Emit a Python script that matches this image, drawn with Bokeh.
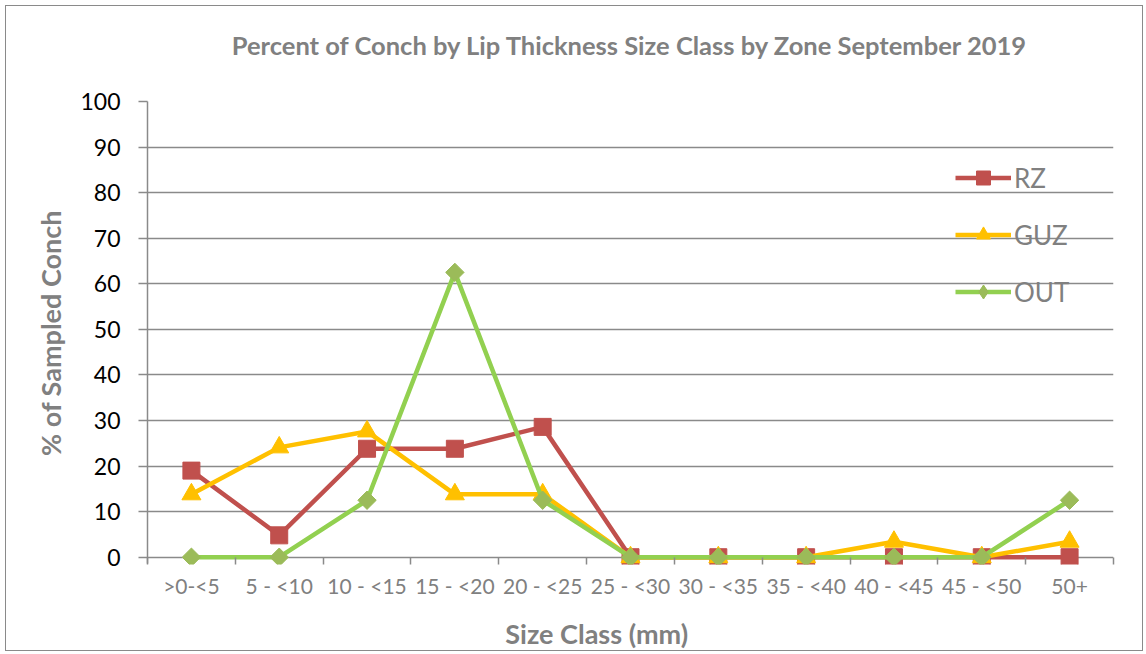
import numpy as np
from bokeh.plotting import figure
from bokeh.models import (Range1d, FixedTicker, Legend, LegendItem, CustomJSTickFormatter, Title)
from bokeh.embed import file_html
from bokeh.resources import INLINE

# ---- data ----
categories = [">0-<5", "5 - <10", "10 - <15", "15 - <20", "20 - <25", "25 - <30",
              "30 - <35", "35 - <40", "40 - <45", "45 - <50", "50+"]
rz = [19.0, 4.8, 23.8, 23.8, 28.6, 0, 0, 0, 0, 0, 0]
guz = [13.8, 24.1, 27.6, 13.8, 13.8, 0, 0, 0, 3.4, 0, 3.4]
out = [0, 0, 12.5, 62.5, 12.5, 0, 0, 0, 0, 0, 12.5]
y_ticks = list(range(0, 101, 10))

title_text = "Percent of Conch by Lip Thickness Size Class by Zone September 2019"
x_title = "Size Class (mm)"
y_title = "% of Sampled Conch"

FONT = "Lato"
GRAY = "#808080"
LINEGRAY = "#8a8a8a"

xs = [i + 0.5 for i in range(len(categories))]

p = figure(width=1138, height=646, output_backend="svg", toolbar_location=None, title=None,
           x_range=Range1d(0, len(categories)), y_range=Range1d(-1.6, 100),
           min_border_left=141, min_border_right=31, min_border_top=95, min_border_bottom=88)
p.outline_line_color = None
p.background_fill_color = "white"
p.border_fill_color = "white"
p.styles = {"border": "1.5px solid #8a8a8a", "margin-left": "5px", "margin-top": "5px"}

# title: a thin spacer next to the frame, then the title text above it
p.add_layout(Title(text=" ", text_font_size="1px", standoff=39), "above")
p.add_layout(Title(text=title_text, align="center", standoff=0,
                   text_font=FONT, text_font_size="25.5px", text_font_style="bold",
                   text_color=GRAY), "above")

# grid
p.xgrid.visible = False
p.ygrid.ticker = FixedTicker(ticks=y_ticks)
p.ygrid.grid_line_color = LINEGRAY
p.ygrid.grid_line_width = 1.5

# y axis
ya = p.yaxis[0]
ya.ticker = FixedTicker(ticks=y_ticks, minor_ticks=[])
ya.bounds = (-1.3, 100)
ya.axis_line_color = LINEGRAY
ya.axis_line_width = 1.5
ya.major_tick_line_color = LINEGRAY
ya.major_tick_line_width = 1.5
ya.major_tick_out = 9
ya.major_tick_in = 0
ya.major_label_text_font = FONT
ya.major_label_text_font_size = "23px"
ya.major_label_text_color = "black"
ya.major_label_standoff = 18
ya.axis_label = y_title
ya.axis_label_text_font = FONT
ya.axis_label_text_font_size = "27px"
ya.axis_label_text_font_style = "bold"
ya.axis_label_text_color = GRAY
ya.axis_label_standoff = 10

# x axis (category labels, boundary ticks)
xa = p.xaxis[0]
xa.ticker = FixedTicker(ticks=xs, minor_ticks=list(range(len(categories) + 1)))
xa.formatter = CustomJSTickFormatter(args=dict(cats=categories),
                                     code="return cats[Math.floor(tick)] || '';")
xa.axis_line_color = None
xa.major_tick_in = 0
xa.major_tick_out = 0
xa.minor_tick_in = 7
xa.minor_tick_out = 0
xa.minor_tick_line_color = LINEGRAY
xa.minor_tick_line_width = 1.5
xa.major_label_text_font = FONT
xa.major_label_text_font_size = "21px"
xa.major_label_text_color = GRAY
xa.major_label_standoff = 8
# trailing en spaces shift the centred title left of the middle, as in the original
xa.axis_label = x_title + "\u2002" * 5
xa.axis_label_standoff = 16
xa.axis_label_text_font = FONT
xa.axis_label_text_font_size = "27px"
xa.axis_label_text_font_style = "bold"
xa.axis_label_text_color = GRAY

# series
l_rz = p.line(xs, rz, line_color="#C0504D", line_width=4.5)
m_rz = p.scatter(xs, rz, marker="square", size=17, fill_color="#C0504D", line_color="#C0504D")
l_guz = p.line(xs, guz, line_color="#FFC000", line_width=4.5)
m_guz = p.scatter(xs, guz, marker="triangle", size=19, fill_color="#FFC000", line_color="#FFC000")
l_out = p.line(xs, out, line_color="#92D050", line_width=4.5)
# diamond swatch used by the legend (hidden beneath the rotated squares)
lg_out = p.scatter(xs, out, marker="diamond", size=12, fill_color="#9BBB59", line_color="#9BBB59")
m_out = p.scatter(xs, out, marker="square", angle=np.pi / 4, size=13,
                  fill_color="#9BBB59", line_color="#9BBB59")

legend = Legend(items=[LegendItem(label="RZ", renderers=[l_rz, m_rz]),
                       LegendItem(label="GUZ", renderers=[l_guz, m_guz]),
                       LegendItem(label="OUT", renderers=[l_out, lg_out])],
                location=(808, 255), padding=0, margin=0, spacing=22,
                glyph_width=56, glyph_height=35, label_height=20, label_standoff=3,
                background_fill_alpha=0, border_line_color=None,
                label_text_font=FONT, label_text_font_size="26px", label_text_color=GRAY)
p.add_layout(legend, "center")

open("out.html", "w").write(file_html(p, INLINE))
